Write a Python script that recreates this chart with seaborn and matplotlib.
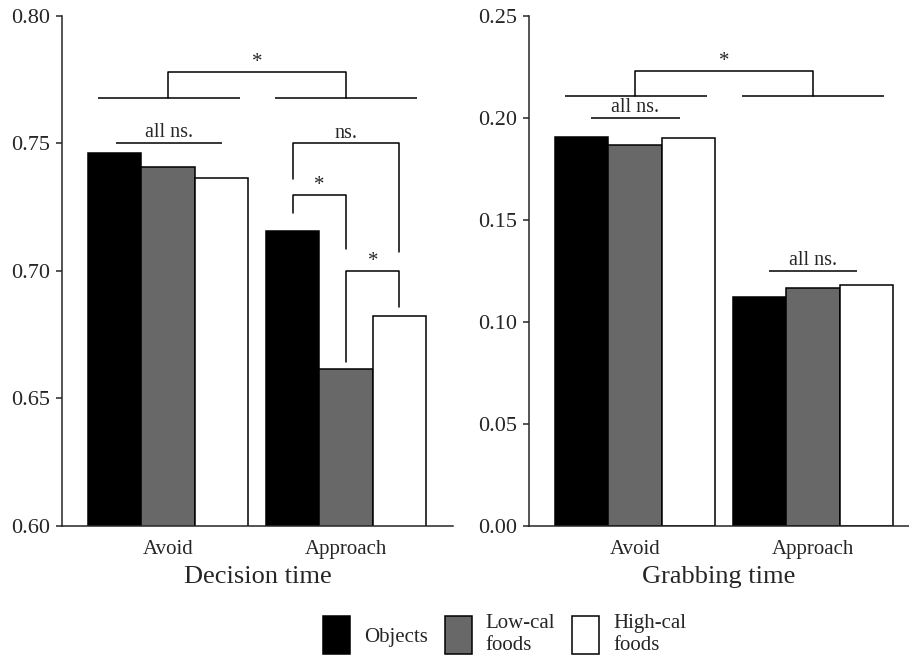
import matplotlib
matplotlib.use("Agg")
import matplotlib.pyplot as plt
import pandas as pd
import seaborn as sns

# values
conditions = ["Avoid", "Approach"]
stimuli = ["Objects", "Low-cal\nfoods", "High-cal\nfoods"]
decision_time = [[0.7463, 0.7409, 0.7366],   # Avoid
                 [0.7155, 0.6617, 0.6824]]   # Approach
grabbing_time = [[0.1908, 0.1869, 0.1902],
                 [0.1124, 0.1167, 0.1180]]
bar_colors = ["#000000", "#686868", "#ffffff"]

sns.set_theme(style="ticks")
plt.rcParams["font.family"] = ["Liberation Serif", "DejaVu Serif"]
plt.rcParams["axes.linewidth"] = 1.1
plt.rcParams["ytick.major.width"] = 1.1


def make_df(vals):
    rows = []
    for i, c in enumerate(conditions):
        for j, s in enumerate(stimuli):
            rows.append([c, s, vals[i][j]])
    return pd.DataFrame(rows, columns=["condition", "stimulus", "value"])


def hline(ax, x0, x1, y):
    ax.plot([x0, x1], [y, y], color="black", lw=1.1, solid_capstyle="butt")


def bracket(ax, x0, x1, y0, y1, top, txt, fs=15):
    ax.plot([x0, x0, x1, x1], [y0, top, top, y1], color="black", lw=1.1)
    ax.text((x0 + x1) / 2, top, txt, ha="center", va="bottom", fontsize=fs)


fig = plt.figure(figsize=(9.09, 6.61), dpi=100)
ax1 = fig.add_axes([62 / 909, 135 / 661, 391 / 909, 510 / 661])
ax2 = fig.add_axes([529 / 909, 135 / 661, 380 / 909, 510 / 661])

for ax, vals, xlabel in [(ax1, decision_time, "Decision time"),
                         (ax2, grabbing_time, "Grabbing time")]:
    df = make_df(vals)
    sns.barplot(data=df, x="condition", y="value", hue="stimulus",
                palette=bar_colors, width=0.9, edgecolor="black",
                linewidth=1.1, saturation=1, ax=ax, legend=(ax is ax1))
    sns.despine(ax=ax)
    ax.set_xlabel(xlabel, fontsize=19, labelpad=5)
    ax.set_ylabel("")
    ax.tick_params(axis="x", length=0, pad=10, labelsize=15)
    ax.tick_params(axis="y", length=4.3, pad=4.3, labelsize=16)

ax1.set_xlim(-0.596, 1.601)
ax2.set_xlim(-0.596, 1.539)
ax1.set_ylim(0.60, 0.80)
ax1.set_yticks([0.60, 0.65, 0.70, 0.75, 0.80])
ax1.set_yticklabels(["0.60", "0.65", "0.70", "0.75", "0.80"])
ax2.set_ylim(0, 0.25)
ax2.set_yticks([0, 0.05, 0.10, 0.15, 0.20, 0.25])
ax2.set_yticklabels(["0.00", "0.05", "0.10", "0.15", "0.20", "0.25"])

# significance marks, left panel
hline(ax1, -0.393, 0.404, 0.7678)
hline(ax1, 0.601, 1.399, 0.7678)
bracket(ax1, 0, 1, 0.7678, 0.7678, 0.778, "*")
hline(ax1, -0.292, 0.303, 0.75)
ax1.text(0.005, 0.7505, "all ns.", ha="center", va="bottom", fontsize=14.5)
bracket(ax1, 0.7, 1.3, 0.736, 0.7075, 0.75, "ns.", fs=14.5)
bracket(ax1, 0.7, 1.0, 0.7227, 0.7086, 0.7298, "*")
bracket(ax1, 1.0, 1.3, 0.6643, 0.6859, 0.70, "*")

# significance marks, right panel
hline(ax2, -0.393, 0.404, 0.211)
hline(ax2, 0.601, 1.399, 0.211)
bracket(ax2, 0, 1, 0.211, 0.211, 0.2229, "*")
hline(ax2, -0.247, 0.253, 0.20)
ax2.text(0.0, 0.2003, "all ns.", ha="center", va="bottom", fontsize=14.5)
hline(ax2, 0.753, 1.247, 0.125)
ax2.text(1.0, 0.1253, "all ns.", ha="center", va="bottom", fontsize=14.5)

handles, labels = ax1.get_legend_handles_labels()
ax1.get_legend().remove()
fig.legend(handles, labels, loc="center", bbox_to_anchor=(0.555, 0.04),
           ncol=3, frameon=False, fontsize=15, handlelength=1.3,
           handleheight=2.4, handletextpad=0.67, columnspacing=0.8,
           labelspacing=0.2)

fig.savefig("out.png", dpi=100)
